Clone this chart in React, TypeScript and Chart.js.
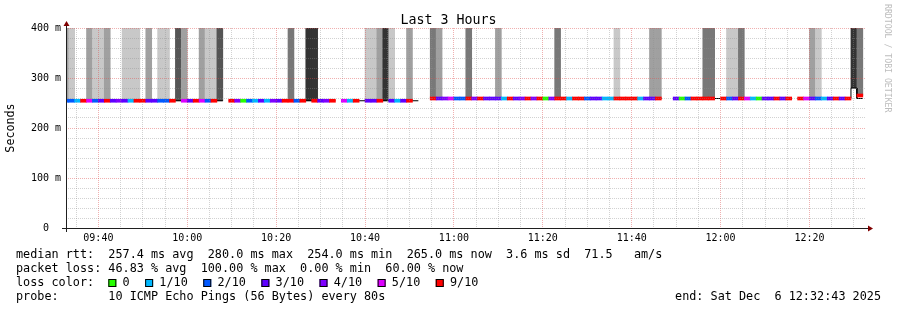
import React, { useEffect, useRef } from 'react';
import { Chart, registerables } from 'chart.js';

Chart.register(...registerables);

const FONT = '"DejaVu Sans Mono", monospace';

const graphTitle = 'Last 3 Hours';
const yAxisTitle = 'Seconds';
const watermark = 'RRDTOOL / TOBI OETIKER';

// time axis in seconds since midnight
const viewStart = 34363; // 09:32:43
const viewEnd = 45163; // 12:32:43
const firstStep = 34320; // start of the first (partly visible) 80 s step
const stepLength = 80;
const smokeCeiling = 500; // slowest pings are above the 400 ms axis maximum

const xTickLabels = ['09:40', '10:00', '10:20', '10:40', '11:00', '11:20', '11:40', '12:00', '12:20'];
const xMinorTickSeconds = 300;
const yTickLabels = ['0  ', '100 m', '200 m', '300 m', '400 m'];
const yMinorStep = 20;
const yMajorStep = 100;

// median rtt per 80 s step (ms), null = no data
const medianRtt = [
  254.5, 254.5, 254.5, 254.5, 254.5, 254.5, 254.5, 254.5, 254.5, 254.5,
  254.5, 254.5, 254.5, 254.5, 254.5, 254.5, 254.5, 254.5, 254.5, 254.5,
  254.5, 254.5, 254.5, 254.5, 254.5, 254.5, 254.5, null, 254.5, 254.5,
  254.5, 254.5, 254.5, 254.5, 254.5, 254.5, 254.5, 254.5, 254.5, 254.5,
  254.5, 254.5, 254.5, 254.5, 254.5, 254.5, null, 254.5, 254.5, 254.5,
  254.5, 254.5, 254.5, 254.5, 254.5, 254.5, 254.5, 254.5, 254.5, 254.5,
  null, null, 259, 259, 259, 259, 259, 259, 259, 259,
  259, 259, 259, 259, 259, 259, 259, 259, 259, 259,
  259, 259, 259, 259, 259, 259, 259, 259, 259, 259,
  259, 259, 259, 259, 259, 259, 259, 259, 259, 259,
  259, null, null, 259, 259, 259, 259, 259, 259, 259,
  259, 259, 259, 259, 259, 259, 259, 259, 259, 259,
  259, 259, 259, null, 259, 259, 259, 259, 259, 259,
  259, 259, 259, 280, 265, null,
];

// thin black line (lowest rtt) per step (ms)
const lowRtt = [
  254.5, 254.5, 254.5, 254.5, 254.5, 254.5, 254.5, 254.5, 254.5, 254.5,
  254.5, 254.5, 254.5, 254.5, 254.5, 254.5, 254.5, 254.5, 254.5, 254.5,
  254.5, 254.5, 254.5, 254.5, 254.5, 254.5, 254.5, null, 254.5, 254.5,
  254.5, 254.5, 254.5, 254.5, 254.5, 254.5, 254.5, 254.5, 254.5, 254.5,
  254.5, 254.5, 254.5, 254.5, 254.5, 254.5, null, 254.5, 254.5, 254.5,
  254.5, 254.5, 254.5, 254.5, 254.5, 254.5, 254.5, 254.5, 254.5, 254.5,
  null, null, 259, 259, 259, 259, 259, 259, 259, 259,
  259, 259, 259, 259, 259, 259, 259, 259, 259, 259,
  259, 259, 259, 259, 259, 259, 259, 259, 259, 259,
  259, 259, 259, 259, 259, 259, 259, 259, 259, 259,
  259, null, null, 259, 259, 259, 259, 259, 259, 259,
  259, 259, 259, 259, 259, 259, 259, 259, 259, 259,
  259, 259, 259, null, 259, 259, 259, 259, 259, 259,
  259, 259, 259, 280, 259, null,
];

// packet loss per step in tenths; null = no loss colour drawn
const lossTenths = [
  2, 2, 1, 9, 5, 2, 3, 9, 3, 4,
  3, 1, 9, 9, 3, 3, 2, 2, 9, null,
  5, 3, 9, 5, 2, 9, null, null, 9, 4,
  0, 2, 1, 3, 1, 4, 3, 9, 9, 2,
  9, null, 9, 3, 4, 9, null, 5, 1, 9,
  null, 3, 3, 9, null, 3, 1, 3, 9, null,
  null, null, 9, 3, 4, 5, 2, 2, 9, 4,
  9, 3, 3, 3, 1, 9, 3, 4, 9, 4,
  9, 0, 4, 9, 9, 1, 9, 9, 2, 3,
  3, 1, 1, 9, 9, 9, 9, 1, 3, 3,
  9, null, null, 3, 0, 2, 9, 9, 9, 9,
  null, 9, 2, 3, 9, 5, 1, 0, 3, 3,
  9, 3, 9, null, 9, 5, 3, 2, 1, 3,
  9, 3, 9, null, 9, null,
];

// smoke shade per step: 0 none, 1 light ... 5 darkest
const smokeShade = [
  2, 1, 0, 0, 2, 1, 1, 2, 0, 0,
  1, 1, 1, 0, 2, 0, 1, 1, 0, 4,
  2, 0, 0, 2, 1, 1, 4, 0, 0, 0,
  0, 0, 0, 0, 0, 0, 0, 0, 3, 0,
  0, 5, 5, 0, 0, 0, 0, 0, 0, 0,
  0, 1, 1, 2, 5, 1, 0, 0, 2, 0,
  0, 0, 3, 2, 0, 0, 0, 0, 3, 0,
  0, 0, 0, 2, 0, 0, 0, 0, 0, 0,
  0, 0, 0, 3, 0, 0, 0, 0, 0, 0,
  0, 0, 0, 1, 0, 0, 0, 0, 0, 2,
  2, 0, 0, 0, 0, 0, 0, 0, 3, 3,
  0, 0, 1, 1, 3, 0, 0, 0, 0, 0,
  0, 0, 0, 0, 0, 0, 2, 1, 0, 0,
  0, 0, 0, 5, 3, 0,
];

const lossLevels = [0, 1, 2, 3, 4, 5, 9];
const lossLabels = ['0', '1/10', '2/10', '3/10', '4/10', '5/10', '9/10'];
const lossColors = ['#26ff00', '#00b8ff', '#0059ff', '#5e00ff', '#7e00ff', '#dd00ff', '#ff0000'];
const smokeColors = ['', '#c8c8c8', '#a0a0a0', '#787878', '#555555', '#333333'];

const statLines = [
  'median rtt:  257.4 ms avg  280.0 ms max  254.0 ms min  265.0 ms now  3.6 ms sd  71.5   am/s',
  'packet loss: 46.83 % avg  100.00 % max  0.00 % min  60.00 % now',
];
const lossCaption = 'loss color:';
const probeLine = 'probe:       10 ICMP Echo Pings (56 Bytes) every 80s';
const endLine = 'end: Sat Dec  6 12:32:43 2025';

const MINOR_GRID = 'rgba(143,143,143,0.4)';
const MAJOR_GRID = 'rgba(222,79,79,0.45)';
const MEDIAN_HALF = 3; // half of the 3px median line, in ms (1px = 2ms)

function clock(label: string): number {
  const [h, m] = label.split(':').map(Number);
  return h * 3600 + m * 60;
}

const majorTimes = xTickLabels.map(clock);

function buildData() {
  const smoke: any[] = [];
  const smokeBg: string[] = [];
  const loss: any[] = [];
  const lossBg: string[] = [];
  const low: any[] = [];
  for (let s = 0; s < medianRtt.length; s++) {
    const t0 = firstStep + s * stepLength;
    const mid = t0 + stepLength / 2;
    const med = medianRtt[s];
    if (med !== null && smokeShade[s] > 0) {
      smoke.push({ x: mid, y: [med, smokeCeiling] });
      smokeBg.push(smokeColors[smokeShade[s]]);
    }
    const lt = lossTenths[s];
    if (med !== null && lt !== null) {
      loss.push({ x: mid, y: [med - MEDIAN_HALF, med + MEDIAN_HALF] });
      lossBg.push(lossColors[lossLevels.indexOf(lt)]);
    }
    const lo = lowRtt[s];
    if (lo !== null) {
      low.push({ x: t0, y: lo }, { x: t0 + stepLength, y: lo });
    } else {
      low.push({ x: t0, y: null });
    }
  }
  return { smoke, smokeBg, loss, lossBg, low };
}

const annotations = {
  id: 'smokepingAnnotations',
  afterDraw(chart: any) {
    const { ctx, chartArea: a, width } = chart;
    ctx.save();
    // axes
    ctx.lineWidth = 1;
    ctx.strokeStyle = '#1f1f1f';
    ctx.beginPath();
    ctx.moveTo(a.left - 4, a.bottom + 0.5);
    ctx.lineTo(a.right + 4, a.bottom + 0.5);
    ctx.moveTo(a.left + 0.5, a.bottom + 4);
    ctx.lineTo(a.left + 0.5, a.top - 4);
    ctx.stroke();
    ctx.fillStyle = '#800000';
    ctx.beginPath();
    ctx.moveTo(a.right + 2, a.bottom - 2.5);
    ctx.lineTo(a.right + 2, a.bottom + 3.5);
    ctx.lineTo(a.right + 7, a.bottom + 0.5);
    ctx.closePath();
    ctx.fill();
    ctx.beginPath();
    ctx.moveTo(a.left - 2.5, a.top - 2);
    ctx.lineTo(a.left + 3.5, a.top - 2);
    ctx.lineTo(a.left + 0.5, a.top - 7);
    ctx.closePath();
    ctx.fill();

    // title
    ctx.fillStyle = '#000';
    ctx.font = `13.3px ${FONT}`;
    ctx.textAlign = 'center';
    ctx.textBaseline = 'alphabetic';
    ctx.fillText(graphTitle, width / 2, 24);

    // watermark
    ctx.save();
    ctx.translate(width - 10, 4);
    ctx.rotate(Math.PI / 2);
    ctx.font = `8.2px ${FONT}`;
    ctx.fillStyle = '#bdbdbd';
    ctx.textAlign = 'left';
    ctx.textBaseline = 'middle';
    ctx.fillText(watermark, 0, 0);
    ctx.restore();

    // legend
    ctx.font = `11.8px ${FONT}`;
    ctx.textAlign = 'left';
    ctx.textBaseline = 'alphabetic';
    ctx.fillStyle = '#000';
    const cw = ctx.measureText('0').width;
    const x0 = 16;
    const base = 258;
    const lh = 14;
    ctx.fillText(statLines[0], x0, base);
    ctx.fillText(statLines[1], x0, base + lh);
    ctx.fillText(lossCaption, x0, base + 2 * lh);
    let bx = x0 + 13 * cw;
    const by = base + 2 * lh - 7;
    lossLabels.forEach((lab, i) => {
      ctx.fillStyle = lossColors[i];
      ctx.fillRect(bx, by, 8, 8);
      ctx.strokeStyle = '#000';
      ctx.strokeRect(bx + 0.5, by + 0.5, 7, 7);
      ctx.fillStyle = '#000';
      const lx = bx + 2 * cw;
      ctx.fillText(lab, lx, base + 2 * lh);
      bx = lx + ctx.measureText(lab).width + 2 * cw + 1.3;
    });
    ctx.fillText(probeLine, x0, base + 3 * lh);
    ctx.textAlign = 'right';
    ctx.fillText(endLine, width - 16, base + 3 * lh);
    ctx.restore();
  },
};

export default function App() {
  const ref = useRef<HTMLCanvasElement>(null);
  useEffect(() => {
    document.body.style.margin = '0';
    const { smoke, smokeBg, loss, lossBg, low } = buildData();
    const minorTimes: number[] = [];
    for (let t = Math.ceil(viewStart / xMinorTickSeconds) * xMinorTickSeconds; t <= viewEnd; t += xMinorTickSeconds) {
      minorTimes.push(t);
    }
    const yTicks: number[] = [];
    for (let v = 0; v <= 400; v += yMinorStep) yTicks.push(v);

    const chart = new Chart(ref.current as HTMLCanvasElement, {
      type: 'bar',
      data: {
        datasets: [
          {
            type: 'bar',
            data: loss,
            backgroundColor: lossBg,
            grouped: false,
            barPercentage: 1,
            categoryPercentage: 1,
            order: 0,
            clip: 0,
          } as any,
          {
            type: 'line',
            data: low,
            borderColor: '#000000',
            borderWidth: 1,
            pointRadius: 0,
            tension: 0,
            spanGaps: false,
            order: 1,
            clip: 0,
          } as any,
          {
            type: 'bar',
            data: smoke,
            backgroundColor: smokeBg,
            grouped: false,
            barPercentage: 1,
            categoryPercentage: 1,
            order: 2,
            clip: 0,
          } as any,
        ],
      },
      options: {
        responsive: false,
        animation: false,
        devicePixelRatio: 1,
        layout: { padding: { top: 28, right: 31, bottom: 0, left: 0 } },
        plugins: {
          legend: { display: false },
          tooltip: { enabled: false },
          title: { display: false },
        },
        scales: {
          x: {
            type: 'linear',
            min: viewStart,
            max: viewEnd,
            offset: false,
            afterBuildTicks: (scale: any) => {
              scale.ticks = minorTimes.map((v) => ({ value: v }));
            },
            afterFit: (scale: any) => {
              scale.height = 82;
            },
            grid: {
              offset: false,
              drawTicks: false,
              lineWidth: 1,
              z: 1,
              color: (c: any) => (c.tick && majorTimes.includes(c.tick.value) ? MAJOR_GRID : MINOR_GRID),
            },
            border: { display: false, dash: [1, 1] },
            ticks: {
              autoSkip: false,
              maxRotation: 0,
              minRotation: 0,
              padding: 4,
              color: '#000',
              font: { family: FONT, size: 10 },
              callback: (v: any) => {
                const i = majorTimes.indexOf(Number(v));
                return i >= 0 ? xTickLabels[i] : '';
              },
            },
          } as any,
          y: {
            type: 'linear',
            min: 0,
            max: 400,
            afterBuildTicks: (scale: any) => {
              scale.ticks = yTicks.map((v) => ({ value: v }));
            },
            afterFit: (scale: any) => {
              scale.width = 66;
            },
            grid: {
              drawTicks: false,
              lineWidth: 1,
              z: 1,
              color: (c: any) => (c.tick && c.tick.value % yMajorStep === 0 ? MAJOR_GRID : MINOR_GRID),
            },
            border: { display: false, dash: [1, 1] },
            ticks: {
              autoSkip: false,
              padding: 5,
              color: '#000',
              font: { family: FONT, size: 10 },
              callback: (v: any) => (Number(v) % yMajorStep === 0 ? yTickLabels[Number(v) / yMajorStep] : ''),
            },
            title: {
              display: true,
              text: yAxisTitle,
              color: '#000',
              font: { family: FONT, size: 11.7 },
              padding: { top: 4, bottom: 0 },
            },
          } as any,
        },
      },
      plugins: [annotations],
    });
    return () => chart.destroy();
  }, []);

  return (
    <div style={{ position: 'fixed', left: 0, top: 0, width: 897, height: 310, background: '#fff' }}>
      <canvas ref={ref} width={897} height={310} style={{ display: 'block', width: 897, height: 310 }} />
    </div>
  );
}
